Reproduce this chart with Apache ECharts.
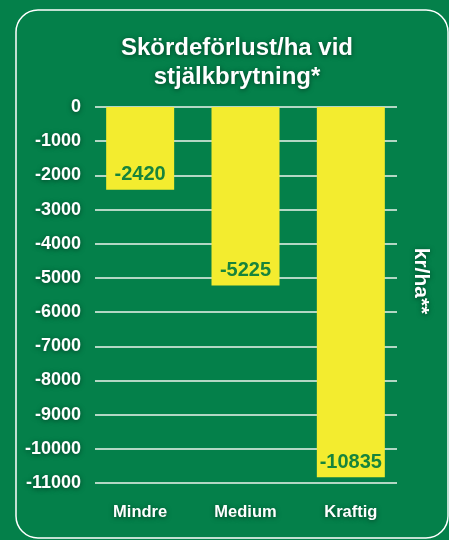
<!DOCTYPE html>
<html>
<head>
<meta charset="utf-8">
<script src="https://cdn.jsdelivr.net/npm/echarts@6/dist/echarts.min.js"></script>
<style>
html,body{margin:0;padding:0;background:#04804a;}
#c{width:449px;height:540px;}
</style>
</head>
<body>
<div id="c"></div>
<script>
const categories = ['Mindre', 'Medium', 'Kraftig'];
const values = [-2420, -5225, -10835];
const yMin = -11000;
const yMax = 0;
const yStep = 1000;
const titleText = 'Skördeförlust/ha vid\nstjälkbrytning*';
const unitText = 'kr/ha**';

const FONT = '"Liberation Sans", Arial, Helvetica, sans-serif';
const shadow = { textShadowColor: 'rgba(0,0,0,0.5)', textShadowBlur: 5, textShadowOffsetX: 0, textShadowOffsetY: 1 };

const chart = echarts.init(document.getElementById('c'), null, { renderer: 'canvas' });
chart.setOption({
  backgroundColor: '#04804a',
  animation: false,
  title: {
    text: titleText,
    left: 232,
    top: 29,
    textAlign: 'center',
    textStyle: Object.assign({ color: '#ffffff', fontFamily: FONT, fontWeight: 'bold', fontSize: 24, lineHeight: 29 }, shadow)
  },
  graphic: [
    { type: 'rect', shape: { x: 16, y: 10, width: 432, height: 528, r: 22 }, style: { fill: 'none', stroke: '#ffffff', lineWidth: 1.5 }, silent: true, z: -1 },
    { type: 'text', x: 421, y: 281, rotation: -Math.PI / 2,
      style: Object.assign({ text: unitText, fill: '#ffffff', font: 'bold 21px ' + FONT, align: 'center', verticalAlign: 'middle' }, shadow) }
  ],
  grid: [
    { left: 95, right: 52, top: 107, bottom: 57 },
    { left: 87.5, right: 45.5, top: 107, bottom: 57 }
  ],
  xAxis: [
    { gridIndex: 0, type: 'category', data: categories, show: false },
    { gridIndex: 1, type: 'category', data: categories, boundaryGap: true,
      axisLine: { show: false }, axisTick: { show: false },
      axisLabel: Object.assign({ color: '#ffffff', fontFamily: FONT, fontWeight: 'bold', fontSize: 16.5, margin: 21 }, shadow) }
  ],
  yAxis: [
    { gridIndex: 0, type: 'value', min: yMin, max: yMax, interval: yStep,
      axisLine: { show: false }, axisTick: { show: false },
      splitLine: { show: true, lineStyle: { color: '#eef4ee', width: 1.5 } },
      axisLabel: Object.assign({ color: '#ffffff', fontFamily: FONT, fontWeight: 'bold', fontSize: 18, margin: 14,
        formatter: function (v) { return String(v); } }, shadow) },
    { gridIndex: 1, type: 'value', min: yMin, max: yMax, interval: yStep, show: false, splitLine: { show: false } }
  ],
  series: [{
    type: 'bar',
    xAxisIndex: 1, yAxisIndex: 1,
    data: values,
    barWidth: 68,
    itemStyle: { color: '#f3ec2f' },
    label: { show: true, position: 'insideBottom', distance: 5, color: '#17843c', fontFamily: FONT, fontWeight: 'bold', fontSize: 20 },
    z: 3
  }]
});
</script>
</body>
</html>
